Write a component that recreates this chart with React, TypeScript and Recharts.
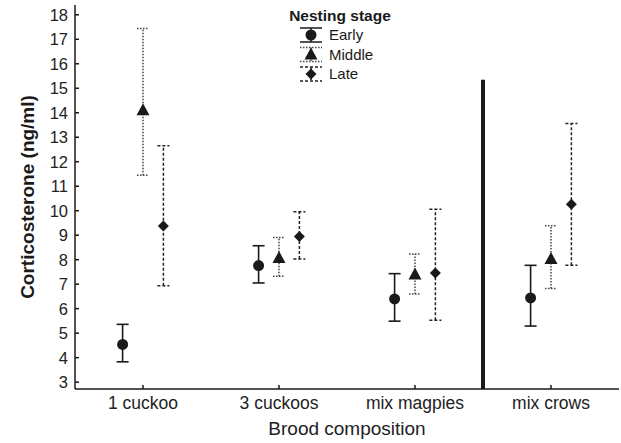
import React from 'react';
import { ScatterChart, Scatter, XAxis, YAxis, ErrorBar, ReferenceLine, Legend } from 'recharts';

const categories = ['1 cuckoo', '3 cuckoos', 'mix magpies', 'mix crows'];
const yTicks = [3, 4, 5, 6, 7, 8, 9, 10, 11, 12, 13, 14, 15, 16, 17, 18];

const earlyMean = [4.54, 7.76, 6.4, 6.44];
const earlyLow = [3.83, 7.05, 5.49, 5.29];
const earlyHigh = [5.36, 8.57, 7.43, 7.77];

const middleMean = [14.1, 8.07, 7.4, 8.03];
const middleLow = [11.45, 7.32, 6.6, 6.82];
const middleHigh = [17.44, 8.91, 8.23, 9.39];

const lateMean = [9.38, 8.95, 7.46, 10.26];
const lateLow = [6.94, 8.03, 5.53, 7.77];
const lateHigh = [12.65, 9.96, 10.06, 13.56];

// the thick divider between the cuckoo/magpie groups and the crows
const dividerX = 3;
const dividerTop = 15.35;

const build = (mean: number[], low: number[], high: number[], shift: number) =>
  mean.map((m, i) => ({
    x: i + 0.5 + shift,
    y: m,
    err: [m - low[i], high[i] - m],
  }));

const earlyData = build(earlyMean, earlyLow, earlyHigh, -0.15);
const middleData = build(middleMean, middleLow, middleHigh, 0);
const lateData = build(lateMean, lateLow, lateHigh, 0.15);

const INK = '#1a1a1a';

const Dot = (p: any) => <circle cx={p.cx} cy={p.cy} r={5.5} fill={INK} />;
const Tri = (p: any) => (
  <polygon points={`${p.cx},${p.cy - 7} ${p.cx - 6.5},${p.cy + 5} ${p.cx + 6.5},${p.cy + 5}`} fill={INK} />
);
const Diamond = (p: any) => (
  <polygon points={`${p.cx},${p.cy - 5.5} ${p.cx + 5.5},${p.cy} ${p.cx},${p.cy + 5.5} ${p.cx - 5.5},${p.cy}`} fill={INK} />
);

const stages = [
  { name: 'Early', dash: undefined, color: INK, marker: 'circle' },
  { name: 'Middle', dash: '1.5 1.5', color: '#444', marker: 'triangle' },
  { name: 'Late', dash: '3 2', color: '#222', marker: 'diamond' },
];

const LegendBox = () => (
  <svg width={140} height={88} style={{ display: 'block' }}>
    <text x={70} y={21} textAnchor="middle" fontSize={15.5} fontWeight="bold" fill={INK}>
      Nesting stage
    </text>
    {stages.map((s, i) => {
      const top = 28 + i * 19.5;
      const cx = 41;
      const cy = top + 7;
      return (
        <g key={s.name}>
          <line x1={cx - 11} x2={cx + 11} y1={top} y2={top} stroke={s.color} strokeWidth={1.5} strokeDasharray={s.dash} />
          <line x1={cx - 11} x2={cx + 11} y1={top + 14} y2={top + 14} stroke={s.color} strokeWidth={1.5} strokeDasharray={s.dash} />
          <line x1={cx} x2={cx} y1={top} y2={top + 14} stroke={s.color} strokeWidth={1.5} strokeDasharray={s.dash} />
          {s.marker === 'circle' && <Dot cx={cx} cy={cy} />}
          {s.marker === 'triangle' && <Tri cx={cx} cy={cy} />}
          {s.marker === 'diamond' && <Diamond cx={cx} cy={cy} />}
          <text x={59} y={cy + 5} fontSize={15} fill={INK}>
            {s.name}
          </text>
        </g>
      );
    })}
  </svg>
);

export default function App() {
  return (
    <div style={{ position: 'absolute', left: 0, top: 0, fontFamily: "'Liberation Sans', Arial, sans-serif" }}>
      <ScatterChart width={621} height={443} margin={{ top: 5, right: 2, bottom: 0, left: 0 }}>
        <XAxis
          type="number"
          dataKey="x"
          domain={[0, 4]}
          ticks={[0.5, 1.5, 2.5, 3.5]}
          interval={0}
          tickFormatter={(v: number) => categories[Math.floor(v)]}
          height={54}
          stroke={INK}
          strokeWidth={1.5}
          tickSize={-4}
          tickMargin={12}
          tick={{ fill: '#222', fontSize: 17.5 }}
          label={{
            content: (p: any) => {
              const vb = p.viewBox;
              return (
                <text x={vb.x + vb.width / 2} y={vb.y + 46} textAnchor="middle" fontSize={19} fill="#222">
                  Brood composition
                </text>
              );
            },
          }}
        />
        <YAxis
          type="number"
          dataKey="y"
          domain={[2.72, 18.4]}
          ticks={yTicks}
          interval={0}
          allowDataOverflow
          width={75}
          stroke={INK}
          strokeWidth={1.5}
          tickSize={-4}
          tickMargin={11}
          tick={{ fill: '#222', fontSize: 16.5 }}
          label={{
            content: (p: any) => {
              const vb = p.viewBox;
              const cx = vb.x + 27;
              const cy = vb.y + vb.height / 2;
              return (
                <text
                  x={cx}
                  y={cy}
                  transform={`rotate(-90 ${cx} ${cy})`}
                  textAnchor="middle"
                  dominantBaseline="central"
                  fontSize={19}
                  fontWeight="bold"
                  fill={INK}
                >
                  Corticosterone (ng/ml)
                </text>
              );
            },
          }}
        />
        <ReferenceLine
          segment={[
            { x: dividerX, y: 2.72 },
            { x: dividerX, y: dividerTop },
          ]}
          stroke={INK}
          strokeWidth={4}
        />
        <Legend
          layout="vertical"
          align="center"
          verticalAlign="middle"
          wrapperStyle={{ top: 0, left: 270, width: 140 }}
          content={() => <LegendBox />}
        />
        <Scatter name="Early" data={earlyData} shape={Dot} isAnimationActive={false}>
          <ErrorBar dataKey="err" direction="y" width={6} stroke={INK} strokeWidth={1.6} isAnimationActive={false} />
        </Scatter>
        <Scatter name="Middle" data={middleData} shape={Tri} isAnimationActive={false}>
          <ErrorBar dataKey="err" direction="y" width={6} stroke="#444" strokeWidth={1.5} strokeDasharray="1.5 1.5" isAnimationActive={false} />
        </Scatter>
        <Scatter name="Late" data={lateData} shape={Diamond} isAnimationActive={false}>
          <ErrorBar dataKey="err" direction="y" width={6} stroke="#222" strokeWidth={1.5} strokeDasharray="3 2" isAnimationActive={false} />
        </Scatter>
      </ScatterChart>
    </div>
  );
}
